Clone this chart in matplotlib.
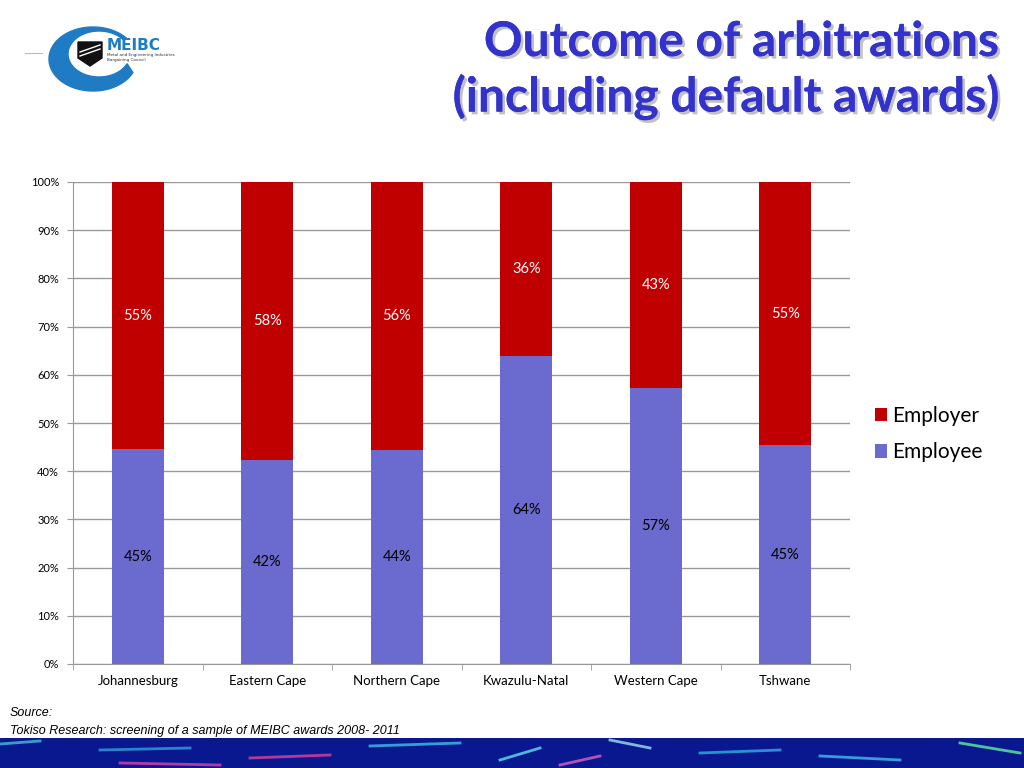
import numpy as np
import matplotlib
matplotlib.use("Agg")
import matplotlib.pyplot as plt
from matplotlib.patches import Rectangle, Polygon
import matplotlib.patheffects as pe

regions = ["Johannesburg", "Eastern Cape", "Northern Cape", "Kwazulu-Natal", "Western Cape", "Tshwane"]
employee = [44.6, 42.4, 44.4, 63.8, 57.2, 45.4]
employer = [55.4, 57.6, 55.6, 36.2, 42.8, 54.6]
yticks = [0, 10, 20, 30, 40, 50, 60, 70, 80, 90, 100]

c_employer = "#C00000"
c_employee = "#6B6BCF"
font = "Lato"

fig = plt.figure(figsize=(10.24, 7.68), dpi=100)
ax = fig.add_axes([73 / 1024, 1 - 664 / 768, (850 - 73) / 1024, (664 - 182) / 768])

x = np.arange(len(regions))
b1 = ax.bar(x, employee, width=0.4, color=c_employee, label="Employee", zorder=3)
b2 = ax.bar(x, employer, width=0.4, bottom=employee, color=c_employer, label="Employer", zorder=3)

for i in range(len(regions)):
    ax.text(x[i], employee[i] / 2, "%d%%" % round(employee[i]), ha="center", va="center",
            color="black", fontsize=10.5, family=font, zorder=4)
    ax.text(x[i], employee[i] + employer[i] / 2, "%d%%" % round(employer[i]), ha="center", va="center",
            color="white", fontsize=10.5, family=font, zorder=4)

ax.set_xlim(-0.5, len(regions) - 0.5)
ax.set_ylim(0, 100)
ax.set_yticks(yticks)
ax.set_yticklabels(["%d%%" % v for v in yticks], family=font, fontsize=8)
ax.set_xticks(x)
ax.set_xticklabels(regions, family=font, fontsize=9.5)
ax.set_xticks(np.arange(len(regions) + 1) - 0.5, minor=True)
ax.tick_params(axis="x", which="major", length=0, pad=8)
ax.tick_params(axis="x", which="minor", length=4, color="#999999", direction="out")
ax.tick_params(axis="y", length=4, color="#999999", pad=6)
ax.yaxis.grid(True, color="#999999", linewidth=1, zorder=0)
for s in ["top", "right"]:
    ax.spines[s].set_visible(False)
for s in ["left", "bottom"]:
    ax.spines[s].set_color("#999999")

handles = [b2, b1]
leg = fig.legend(handles, ["Employer", "Employee"], loc="upper left", bbox_to_anchor=(856 / 1024, 1 - 387 / 768),
                 frameon=False, prop={"family": font, "size": 15}, handlelength=0.6, handleheight=0.6,
                 handletextpad=0.25, labelspacing=0.8)

# title
title_fx = [pe.withSimplePatchShadow(offset=(2, -2), shadow_rgbFace="#999999", alpha=0.6), pe.Normal()]
fig.text(998 / 1024, 1 - 42 / 768, "Outcome of arbitrations", ha="right", va="center", fontsize=34.5,
         fontweight="bold", family=font, color="#3333CC", path_effects=title_fx)
fig.text(998 / 1024, 1 - 97 / 768, "(including default awards)", ha="right", va="center", fontsize=34.5,
         fontweight="bold", family=font, color="#3333CC", path_effects=title_fx)

# logo
lax = fig.add_axes([0, 1 - 130 / 768, 300 / 1024, 130 / 768])
lax.set_xlim(0, 300)
lax.set_ylim(130, 0)
lax.axis("off")
t = np.linspace(np.radians(40), np.radians(335), 100)
outer = np.c_[93 + 44 * np.cos(t), 59 - 32 * np.sin(t)]
inner = np.c_[99 + 31 * np.cos(t[::-1]), 54 - 23 * np.sin(t[::-1])]
lax.add_patch(Polygon(np.vstack([outer, inner]), closed=True, color="#1E7BC4"))
lax.add_patch(Polygon([[78, 42], [102, 42], [102, 58], [90, 66], [78, 58]], closed=True, color="#111111"))
lax.plot([80, 100], [52, 45], color="white", lw=1)
lax.plot([80, 100], [56, 49], color="white", lw=1)
lax.plot([25, 42], [53, 53], color="#bbbbbb", lw=0.8)
lax.text(107, 46, "MEIBC", color="#1E7BC4", fontsize=11, fontweight="bold", family="DejaVu Sans", va="center")
lax.text(107, 55, "Metal and Engineering Industries", color="#333333", fontsize=3, family="DejaVu Sans", va="center")
lax.text(107, 60, "Bargaining Council", color="#333333", fontsize=3, family="DejaVu Sans", va="center")

# source
fig.text(10 / 1024, 1 - 713 / 768, "Source:", style="italic", fontsize=9, family="Liberation Sans", va="center")
fig.text(10 / 1024, 1 - 731 / 768, "Tokiso Research: screening of a sample of MEIBC awards 2008- 2011",
         style="italic", fontsize=9, family="Liberation Sans", va="center")

# bottom banner
bax = fig.add_axes([0, 0, 1, 30 / 768])
bax.set_xlim(0, 1024)
bax.set_ylim(0, 30)
bax.axis("off")
bax.add_patch(Rectangle((0, 0), 1024, 30, color="#0A1890"))
streaks = [(0, 24, 40, 27, "#40C0E0"), (100, 18, 190, 20, "#30A0E0"), (250, 10, 330, 13, "#E040A0"),
           (370, 22, 460, 25, "#40C0F0"), (500, 8, 540, 20, "#60E0F0"), (610, 28, 650, 20, "#A0E0F0"),
           (700, 15, 780, 18, "#30B0E0"), (820, 12, 900, 8, "#40C0F0"), (960, 25, 1020, 15, "#60F0A0"),
           (120, 5, 220, 3, "#E040B0"), (560, 3, 600, 12, "#E060C0")]
for x0, y0, x1, y1, c in streaks:
    bax.plot([x0, x1], [y0, y1], color=c, lw=2, alpha=0.8)

fig.savefig("out.png", dpi=100)
